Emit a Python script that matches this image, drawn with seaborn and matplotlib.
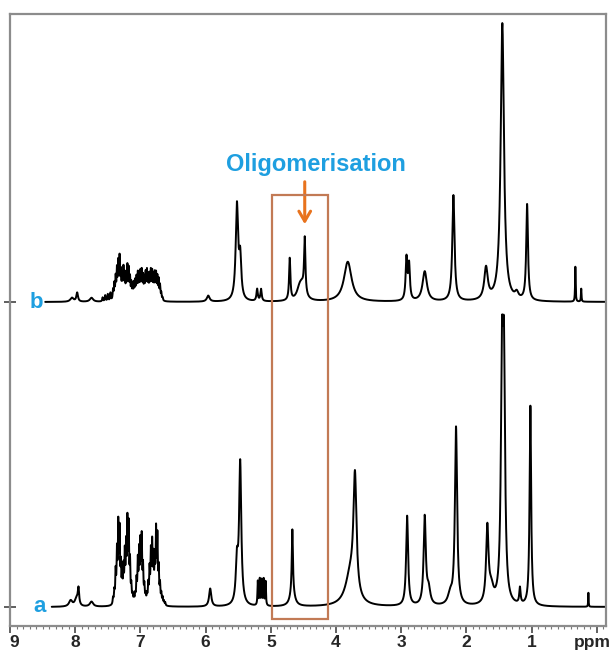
import numpy as np
import pandas as pd
import matplotlib
matplotlib.use("Agg")
import matplotlib.pyplot as plt
import matplotlib.transforms as mtransforms
import seaborn as sns
from matplotlib.patches import Rectangle
from matplotlib.ticker import MultipleLocator

sns.set_theme(style="white")
plt.rcParams['font.family'] = ['Liberation Sans', 'DejaVu Sans']

# ---------------- data ----------------
# spectrum a (bottom): line positions (ppm), heights (px units), half widths (ppm)
a_arom_ppm = [7.42, 7.40, 7.38, 7.36, 7.34, 7.32, 7.30, 7.28, 7.26, 7.24, 7.22,
              7.20, 7.18, 7.16, 7.14, 7.12, 7.10, 7.08, 7.06, 7.04, 7.02, 7.00,
              6.98, 6.96, 6.94, 6.92, 6.90, 6.88, 6.86, 6.84, 6.82, 6.80, 6.78,
              6.76, 6.74, 6.72, 6.70, 6.68, 6.66, 6.64, 6.62]
a_arom_height = [6, 12, 30, 48, 74, 68, 34, 26, 32, 46, 52,
                 76, 72, 38, 16, 8, 6, 8, 22, 40, 48, 56,
                 62, 34, 16, 8, 8, 18, 32, 48, 56, 42, 40,
                 68, 62, 32, 18, 10, 7, 4, 3]
a_ppm = [8.07, 7.98, 7.95, 7.75,
         5.93, 5.52, 5.47, 5.20, 5.17, 5.14, 5.11, 5.08,
         4.67, 4.67, 3.71, 3.78, 2.91, 2.64, 2.58, 2.25, 2.16,
         1.68, 1.62, 1.455, 1.425, 1.18, 1.02, 0.13]
a_height = [6, 8, 16, 5,
            18, 40, 142, 24, 26, 25, 26, 24,
            62, 15, 118, 30, 90, 88, 15, 10, 178,
            76, 15, 218, 218, 16, 200, 14]
a_width = [0.03, 0.03, 0.012, 0.03,
           0.02, 0.02, 0.02, 0.006, 0.006, 0.006, 0.006, 0.006,
           0.01, 0.04, 0.028, 0.09, 0.018, 0.02, 0.03, 0.04, 0.02,
           0.022, 0.04, 0.02, 0.02, 0.012, 0.014, 0.004]
a_range = [8.36, -0.15]

# spectrum b (top, oligomerised)
b_arom_ppm = [7.58, 7.54, 7.50, 7.46, 7.42, 7.40, 7.38, 7.36, 7.34, 7.32, 7.30,
              7.28, 7.26, 7.24, 7.22, 7.20, 7.18, 7.16, 7.14, 7.12, 7.10, 7.08,
              7.06, 7.04, 7.02, 7.00, 6.98, 6.96, 6.94, 6.92, 6.90, 6.88, 6.86,
              6.84, 6.82, 6.80, 6.78, 6.76, 6.74, 6.72, 6.70, 6.68, 6.66]
b_arom_height = [4, 6, 7, 8, 10, 15, 21, 28, 34, 39, 25,
                 21, 29, 23, 17, 31, 28, 20, 15, 13, 15, 17,
                 20, 24, 21, 25, 26, 21, 19, 24, 26, 21, 22,
                 26, 25, 21, 24, 24, 21, 19, 14, 7, 3]
b_ppm = [8.05, 7.97, 7.75,
         5.96, 5.52, 5.47, 5.21, 5.15,
         4.71, 4.48, 4.52, 4.56, 3.82, 2.92, 2.88, 2.64,
         2.20, 1.70, 1.45, 1.23, 1.07, 0.33, 0.24]
b_height = [4, 9, 4,
            6, 95, 40, 12, 12,
            42, 55, 12, 10, 40, 42, 35, 30,
            106, 32, 278, 6, 96, 35, 13]
b_width = [0.03, 0.015, 0.03,
           0.025, 0.022, 0.02, 0.012, 0.012,
           0.012, 0.012, 0.05, 0.05, 0.07, 0.015, 0.015, 0.04,
           0.02, 0.032, 0.03, 0.03, 0.016, 0.005, 0.005]
b_range = [8.46, -0.2]
b_offset = 305
arom_width = 0.007

labels = ["a", "b"]
x_ticks = [9, 8, 7, 6, 5, 4, 3, 2, 1, 0]
x_ticklabels = ["9", "8", "7", "6", "5", "4", "3", "2", "1", "ppm"]
annotation = "Oligomerisation"
box_ppm = [4.98, 4.12]


def spectrum(rng, pos, hts, wds, n=9000):
    x = np.linspace(rng[0], rng[1], n)
    y = np.zeros_like(x)
    for p, h, w in zip(pos, hts, wds):
        y += h / (1.0 + ((x - p) / w) ** 2)
    return x, y


xa, ya = spectrum(a_range, a_ppm + a_arom_ppm, a_height + a_arom_height,
                  a_width + [arom_width] * len(a_arom_ppm))
xb, yb = spectrum(b_range, b_ppm + b_arom_ppm, b_height + b_arom_height,
                  b_width + [arom_width] * len(b_arom_ppm))
df = pd.concat([
    pd.DataFrame({"ppm": xa, "intensity": ya, "trace": "a"}),
    pd.DataFrame({"ppm": xb, "intensity": yb + b_offset, "trace": "b"}),
])

# ---------------- figure ----------------
fig = plt.figure(figsize=(6.14, 6.52), dpi=100)
ax = fig.add_axes([10 / 614, 1 - 626 / 652, 596 / 614, 612 / 652])

for name, sub in df.groupby("trace"):
    sns.lineplot(data=sub, x="ppm", y="intensity", ax=ax, color="black",
                 linewidth=1.4, estimator=None, sort=False, legend=False)

ax.set_xlim(9.0, -0.14)
ax.set_ylim(-19, 593)

# frame
for s in ax.spines.values():
    s.set_color("#8c8c8c")
    s.set_linewidth(1.6)

ax.set_xticks(x_ticks)
ax.set_xticklabels(x_ticklabels, fontsize=12.5, fontweight="bold")
ax.xaxis.set_minor_locator(MultipleLocator(0.1))
ax.tick_params(axis="x", which="major", direction="out", length=5, width=1.3,
               color="#555555", pad=1.5, bottom=True)
ax.tick_params(axis="x", which="minor", direction="out", length=2.5, width=0.8,
               color="#777777", bottom=True)
ax.set_yticks([0, b_offset])
ax.set_yticklabels([])
ax.tick_params(axis="y", which="major", direction="inout", length=8, width=1.2,
               color="#444444", left=True)
ax.set_xlabel("")
ax.set_ylabel("")

# nudge the first and last tick labels inside the figure, as in the reference
tl = ax.get_xticklabels()
tl[0].set_transform(tl[0].get_transform() +
                    mtransforms.ScaledTranslation(4 / 100, 0, fig.dpi_scale_trans))
tl[-1].set_transform(tl[-1].get_transform() +
                     mtransforms.ScaledTranslation(-5 / 100, 0, fig.dpi_scale_trans))

# trace labels
ax.text(8.54, 0, labels[0], color="#1e9fe0", fontsize=16, fontweight="bold",
        ha="center", va="center")
ax.text(8.60, b_offset, labels[1], color="#1e9fe0", fontsize=16, fontweight="bold",
        ha="center", va="center")

# highlight box
ax.add_patch(Rectangle((box_ppm[0], -12), box_ppm[1] - box_ppm[0], 424,
                       fill=False, edgecolor="#c27a55", linewidth=1.6, zorder=5))

# annotation
ax.annotate("", xy=(4.48, 380), xytext=(4.48, 428),
            arrowprops=dict(arrowstyle="->,head_length=0.6,head_width=0.35",
                            color="#e8731e", lw=2.2))
ax.text(4.31, 442, annotation, color="#1e9fe0", fontsize=17, fontweight="bold",
        ha="center", va="center")

fig.savefig("out.png", dpi=100)
